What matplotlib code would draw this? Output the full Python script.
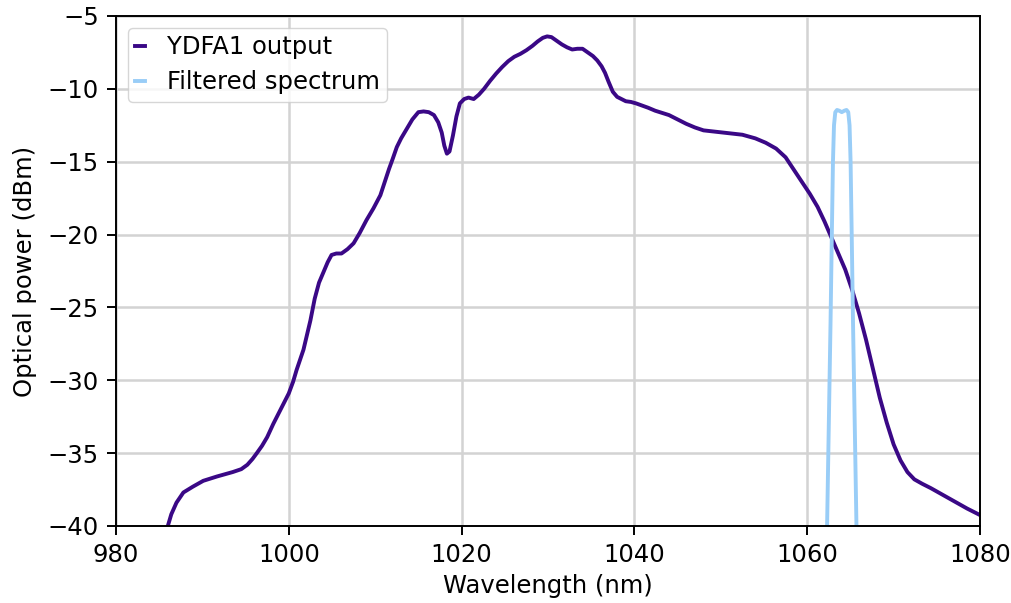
import matplotlib
matplotlib.use("Agg")
import matplotlib.pyplot as plt

# YDFA1 output spectrum, (wavelength nm, power dBm)
ydfa_points = [
    (986.0, -40.0), (986.4, -39.2), (987.0, -38.4), (987.8, -37.7), (988.9, -37.3),
    (990.1, -36.9), (991.7, -36.6), (993.5, -36.3), (994.5, -36.1), (995.2, -35.8),
    (995.8, -35.4), (996.3, -35.0), (996.9, -34.5), (997.5, -33.9), (998.2, -33.0),
    (998.8, -32.3), (999.5, -31.5), (1000.0, -30.9), (1000.5, -30.1), (1000.9, -29.3),
    (1001.3, -28.6), (1001.7, -27.9), (1002.1, -26.9), (1002.5, -25.9), (1003.0, -24.4),
    (1003.5, -23.3), (1004.0, -22.6), (1004.5, -21.9), (1004.95, -21.4), (1005.5, -21.3),
    (1006.1, -21.3), (1006.8, -21.0), (1007.5, -20.6), (1008.2, -19.9), (1009.0, -19.0),
    (1009.8, -18.2), (1010.6, -17.3), (1011.1, -16.4), (1011.6, -15.5), (1012.0, -14.85),
    (1012.5, -14.0), (1013.0, -13.4), (1013.6, -12.8), (1014.3, -12.1), (1015.0, -11.6),
    (1015.6, -11.55), (1016.2, -11.6), (1016.8, -11.8), (1017.3, -12.3), (1017.7, -13.0),
    (1018.0, -13.9), (1018.3, -14.45), (1018.6, -14.3), (1019.0, -13.2), (1019.4, -11.9),
    (1019.8, -11.0), (1020.3, -10.7), (1020.8, -10.6), (1021.4, -10.7), (1022.0, -10.4),
    (1022.6, -10.0), (1023.3, -9.45), (1024.0, -8.95), (1024.7, -8.5), (1025.4, -8.1),
    (1026.1, -7.8), (1026.8, -7.6), (1027.5, -7.35), (1028.2, -7.05), (1028.8, -6.75),
    (1029.4, -6.5), (1029.9, -6.4), (1030.4, -6.45), (1031.0, -6.7), (1031.6, -6.95),
    (1032.2, -7.15), (1032.8, -7.3), (1033.4, -7.25), (1034.0, -7.25), (1034.6, -7.5),
    (1035.2, -7.75), (1035.7, -8.05), (1036.2, -8.45), (1036.6, -8.9), (1037.0, -9.5),
    (1037.5, -10.2), (1038.0, -10.55), (1038.5, -10.7), (1039.0, -10.85), (1039.6, -10.9),
    (1040.2, -11.0), (1040.9, -11.15), (1041.6, -11.3), (1042.4, -11.5), (1043.2, -11.65),
    (1044.0, -11.8), (1045.0, -12.1), (1046.0, -12.4), (1047.0, -12.65), (1048.0, -12.85),
    (1049.5, -12.95), (1051.0, -13.05), (1052.5, -13.15), (1054.0, -13.4), (1055.2, -13.7),
    (1056.4, -14.1), (1057.5, -14.7), (1058.5, -15.6), (1059.4, -16.4), (1060.3, -17.2),
    (1061.2, -18.1), (1062.0, -19.1), (1062.8, -20.2), (1063.6, -21.3), (1064.4, -22.4),
    (1065.2, -23.8), (1066.0, -25.4), (1066.8, -27.2), (1067.6, -29.2), (1068.4, -31.2),
    (1069.2, -32.9), (1070.0, -34.4), (1070.8, -35.5), (1071.6, -36.3), (1072.4, -36.8),
    (1073.3, -37.1), (1074.3, -37.4), (1075.5, -37.8), (1077.0, -38.3), (1078.5, -38.8),
    (1080.0, -39.25),
]

# Filtered spectrum (band-pass around 1064 nm)
filt_points = [
    (1062.3, -40.0), (1062.5, -33.0), (1062.7, -26.0), (1062.85, -20.0), (1062.98, -15.0),
    (1063.1, -12.5), (1063.25, -11.6), (1063.45, -11.45), (1063.7, -11.5), (1064.0, -11.6),
    (1064.3, -11.5), (1064.55, -11.45), (1064.75, -11.6), (1064.9, -12.5), (1065.02, -15.0),
    (1065.15, -20.0), (1065.3, -26.0), (1065.5, -33.0), (1065.7, -40.0),
]

ydfa_wl, ydfa_pow = zip(*ydfa_points)
filt_wl, filt_pow = zip(*filt_points)

fs = 17.5

fig = plt.figure(figsize=(10.12, 6.03), dpi=100)
ax = fig.add_axes([0.1146, 0.1277, 0.8538, 0.8458])

ax.plot(ydfa_wl, ydfa_pow, color="#3a0886", lw=2.8, label="YDFA1 output")
ax.plot(filt_wl, filt_pow, color="#99cdf7", lw=2.8, label="Filtered spectrum")

ax.set_xlim(980, 1080)
ax.set_ylim(-40, -5)
ax.set_xticks(range(980, 1081, 20))
ax.set_yticks(range(-40, -4, 5))
ax.grid(True, color="#d3d3d3", lw=1.8)
ax.set_axisbelow(True)
ax.tick_params(labelsize=fs, width=1.4, length=6.2, pad=6)
for s in ax.spines.values():
    s.set_linewidth(1.4)

ax.set_xlabel("Wavelength (nm)", fontsize=fs, labelpad=5)
ax.set_ylabel("Optical power (dBm)", fontsize=fs, labelpad=8)
ax.legend(loc="upper left", fontsize=fs, handlelength=0.4, handletextpad=0.9,
          borderaxespad=0.5, borderpad=0.3, labelspacing=0.45)

fig.savefig("out.png", dpi=100)
